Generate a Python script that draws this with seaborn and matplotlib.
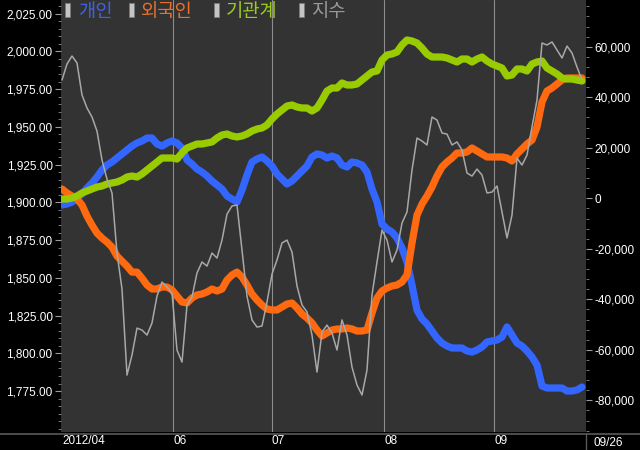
import numpy as np
import pandas as pd
import matplotlib
matplotlib.use("Agg")
import matplotlib.pyplot as plt
import seaborn as sns
from matplotlib.ticker import FuncFormatter, MultipleLocator, FixedLocator
from matplotlib.patches import Rectangle
from matplotlib.lines import Line2D

# ---- data (trading days from late April to 2012-09-26) ----
kospi = [1981.0, 1991.6, 1996.9, 1992.3, 1971.1, 1962.5, 1956.5, 1947.2, 1928.0, 1915.4,
         1906.2, 1866.4, 1842.6, 1785.6, 1798.9, 1816.7, 1815.4, 1812.1, 1820.1, 1837.9,
         1847.2, 1843.9, 1839.9, 1802.2, 1794.2, 1832.0, 1837.3, 1853.2, 1860.5, 1857.8,
         1866.4, 1863.1, 1875.0, 1892.2, 1897.6, 1898.2, 1868.4, 1837.9, 1822.1, 1817.4,
         1818.1, 1834.0, 1852.5, 1861.8, 1873.1, 1875.0, 1867.1, 1844.6, 1832.0, 1827.4,
         1812.1, 1787.6, 1814.1, 1818.7, 1813.4, 1802.2, 1822.1, 1812.1, 1790.9, 1779.0,
         1772.4, 1788.9, 1838.6, 1860.5, 1881.6, 1875.0, 1860.5, 1868.4, 1886.3, 1893.6,
         1921.4, 1942.6, 1940.6, 1938.0, 1956.5, 1954.5, 1945.9, 1945.2, 1938.0, 1940.0,
         1934.6, 1919.4, 1917.4, 1922.0, 1918.1, 1906.2, 1906.8, 1910.8, 1893.6, 1876.4,
         1891.6, 1929.3, 1924.7, 1931.3, 1949.9, 1967.7, 2005.5, 2004.2, 2006.2, 2000.9,
         1995.6, 2003.5, 1998.9, 1989.6, 1981.0]

# cumulative net buying, thousands
individual_k = [-2.65, -2.26, -1.47, 0.12, 1.70, 4.08, 6.06, 8.43, 11.21, 13.19,
                14.37, 15.96, 17.54, 19.13, 20.71, 21.90, 22.69, 23.88, 23.88, 21.50,
                20.71, 21.90, 22.69, 21.90, 19.92, 15.17, 13.58, 11.60, 10.41, 8.83,
                6.85, 5.27, 3.68, 0.91, -0.28, -1.47, 3.29, 9.23, 14.37, 15.56,
                16.36, 14.77, 12.79, 9.62, 7.64, 5.66, 6.85, 8.83, 10.81, 12.79,
                16.36, 17.54, 17.15, 15.96, 16.75, 15.96, 13.19, 12.40, 14.37, 13.98,
                13.19, 10.41, 3.68, -1.47, -10.18, -12.16, -13.35, -15.72, -19.68, -25.23,
                -34.33, -44.27, -47.80, -49.78, -52.55, -55.32, -57.30, -58.49, -59.28, -59.28,
                -59.28, -60.47, -60.87, -60.07, -58.88, -56.90, -56.50, -56.11, -54.92, -50.96,
                -54.13, -57.30, -58.49, -60.47, -62.85, -66.02, -74.33, -75.12, -75.12, -75.12,
                -75.12, -76.31, -76.31, -75.91, -74.73]

foreign_k = [3.68, 2.10, 0.91, -0.28, -2.65, -7.05, -10.61, -13.78, -15.76, -17.35,
             -19.33, -22.89, -24.87, -26.85, -29.23, -29.23, -31.60, -34.33, -35.92, -35.92,
             -35.13, -35.13, -36.31, -38.69, -41.07, -41.46, -39.48, -38.29, -37.90, -37.11,
             -35.92, -36.71, -35.92, -32.36, -30.38, -29.23, -31.17, -34.33, -37.90, -40.28,
             -42.26, -43.84, -44.23, -44.23, -43.05, -41.86, -41.46, -43.44, -45.82, -47.40,
             -49.38, -52.15, -54.53, -53.34, -52.15, -51.76, -51.76, -51.36, -51.76, -52.55,
             -52.55, -52.15, -45.42, -39.48, -36.71, -35.52, -34.73, -34.33, -33.15, -30.38,
             -17.70, -6.65, -2.26, 0.91, 4.48, 8.83, 12.40, 14.37, 15.96, 17.94,
             17.94, 18.34, 19.92, 18.73, 17.54, 16.36, 16.36, 16.36, 16.36, 15.96,
             14.77, 17.54, 19.52, 21.50, 23.09, 28.23, 38.13, 42.49, 43.68, 45.26,
             46.84, 47.64, 47.64, 47.64, 47.64]

institution_k = [-0.28, -0.28, 0.12, 0.91, 2.10, 2.89, 3.68, 4.47, 4.87, 5.66,
                 6.06, 6.45, 7.25, 8.43, 8.83, 8.43, 9.62, 11.21, 12.79, 14.37,
                 15.96, 15.96, 15.96, 15.56, 17.94, 19.92, 20.71, 21.50, 21.50, 21.90,
                 22.30, 23.88, 25.07, 25.46, 24.67, 24.28, 24.67, 25.46, 26.65, 27.44,
                 27.84, 29.03, 31.40, 33.38, 34.97, 36.55, 36.95, 36.15, 35.76, 35.76,
                 34.57, 35.76, 38.93, 42.49, 43.68, 43.68, 45.66, 44.87, 44.87, 45.26,
                 46.84, 48.43, 50.01, 50.41, 54.77, 56.75, 57.15, 57.94, 60.71, 62.69,
                 62.29, 61.50, 59.52, 57.15, 55.95, 55.95, 55.95, 55.56, 54.77, 53.97,
                 55.16, 55.16, 53.97, 55.16, 55.95, 54.37, 53.18, 52.39, 51.59, 48.43,
                 48.83, 51.20, 51.20, 50.41, 53.18, 53.97, 54.37, 51.59, 50.41, 49.22,
                 47.64, 47.24, 47.24, 46.84, 46.45]

groups = ["개인", "외국인", "기관계"]
index_name = "지수"
month_labels = ["2012/04", "06", "07", "08", "09"]
month_pos = [0, 22.2, 42, 64.4, 86.4]
end_label = "09/26"
kospi_ticks = [1775, 1800, 1825, 1850, 1875, 1900, 1925, 1950, 1975, 2000, 2025]
flow_ticks = [-80000, -60000, -40000, -20000, 0, 20000, 40000, 60000]

colors = {"개인": "#3366ff", "외국인": "#ff6a10", "기관계": "#99cc00"}
legend_colors = ["#3f63e0", "#e8702a", "#9acb1f", "#9a9a9a"]

# ---- build tables ----
n = len(kospi)
day = np.arange(n)
flows = pd.DataFrame({
    "day": np.tile(day, 3),
    "value": np.concatenate([individual_k, foreign_k, institution_k]) * 1000,
    "group": np.repeat(groups, n),
})
idx = pd.DataFrame({"day": day, "kospi": kospi})

sns.set_theme(style="dark", rc={"axes.facecolor": "#333333", "figure.facecolor": "black",
                                "axes.edgecolor": "#333333"})
plt.rcParams["font.family"] = ["Liberation Sans", "DejaVu Sans"]

fig = plt.figure(figsize=(6.4, 4.5), dpi=100)
fig.patch.set_facecolor("black")
ax = fig.add_axes([61 / 640, 18 / 450, 525 / 640, 432 / 450])
ax.set_facecolor("#333333")

for xp in month_pos[1:]:
    ax.axvline(xp, color="#8c8c8c", lw=0.8, zorder=0)

sns.lineplot(data=flows, x="day", y="value", hue="group", hue_order=groups,
             palette=colors, linewidth=5.2, ax=ax, legend=False,
             solid_capstyle="round", solid_joinstyle="round")

ax2 = ax.twinx()
sns.lineplot(data=idx, x="day", y="kospi", color="#a8a8a8", linewidth=1.1, ax=ax2)

ax.set_xlim(-0.2, 104.8)
ax.set_ylim(-92545, 78527)
ax2.set_ylim(1747.9, 2034.0)

ax.yaxis.tick_right()
ax2.yaxis.tick_left()

ax.yaxis.set_major_locator(FixedLocator(flow_ticks))
ax.yaxis.set_minor_locator(MultipleLocator(4000))
ax.yaxis.set_major_formatter(FuncFormatter(lambda v, p: f"{v:,.0f}"))
ax2.yaxis.set_major_locator(FixedLocator(kospi_ticks))
ax2.yaxis.set_minor_locator(MultipleLocator(5))
ax2.yaxis.set_major_formatter(FuncFormatter(lambda v, p: f"{v:,.2f}"))

for a in (ax, ax2):
    a.set_xlabel("")
    a.set_ylabel("")
    for s in a.spines.values():
        s.set_visible(False)
    a.tick_params(axis="y", which="major", direction="out", length=4, width=0.8,
                  color="#9a9a9a", labelcolor="white", labelsize=8.5, pad=2)
    a.tick_params(axis="y", which="minor", direction="out", length=2.5, width=0.6,
                  color="#8a8a8a")
    a.grid(False)

ax.set_xticks(month_pos)
ax.set_xticklabels(month_labels, ha="left")
ax.tick_params(axis="x", length=0, pad=2.5, labelcolor="white", labelsize=8.5)

# bottom band separator lines
fig.add_artist(Line2D([0, 1], [(450 - 433.5) / 450] * 2, color="#5a5a5a", lw=1.2))
fig.add_artist(Line2D([586 / 640] * 2, [0, (450 - 433.5) / 450], color="#5a5a5a", lw=1.0))
fig.text(594 / 640, (450 - 443) / 450, end_label, color="white", fontsize=8.5,
         va="center", ha="left")

# top legend
names = groups + [index_name]
bar_x = [65, 129, 214, 299]
txt_x = [78, 141, 226, 311]
for bx, tx, name, c in zip(bar_x, txt_x, names, legend_colors):
    fig.add_artist(Rectangle((bx / 640, (450 - 17) / 450), 5 / 640, 14 / 450,
                             facecolor="#c4c4c4", edgecolor="#7a7a7a", lw=0.6,
                             transform=fig.transFigure))
    fig.text(tx / 640, (450 - 11) / 450, name, color=c, fontsize=13.5,
             family=["Noto Sans CJK KR", "DejaVu Sans"], va="center", ha="left")

fig.savefig("out.png", dpi=100, facecolor="black")
